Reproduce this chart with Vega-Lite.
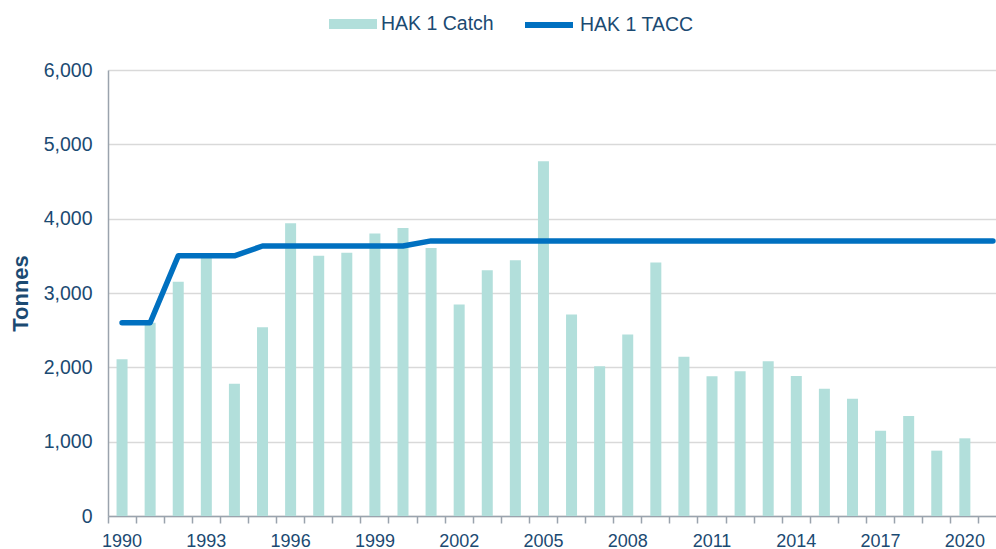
{
  "$schema": "https://vega.github.io/schema/vega-lite/v6.json",
  "width": 888,
  "height": 446,
  "autosize": {"type": "none"},
  "padding": {"left": 108, "top": 70, "right": 0, "bottom": 33},
  "background": "white",
  "config": {
    "view": {"stroke": null},
    "font": "Liberation Sans",
    "axisY": {
      "titleFontSize": 22,
      "titleFontWeight": "bold",
      "titleColor": "#1b4a72",
      "titlePadding": 11,
      "labelFontSize": 19.5,
      "labelColor": "#1b4a72",
      "labelPadding": 16,
      "ticks": false,
      "domainColor": "#9aa3ad",
      "domainWidth": 1.5,
      "grid": true,
      "gridColor": "#d9d9d9",
      "gridWidth": 1.3
    }
  },
  "data": {
    "values": [
      {"year": 1990, "catch": 2110, "tacc": 2600},
      {"year": 1991, "catch": 2600, "tacc": 2600},
      {"year": 1992, "catch": 3150, "tacc": 3500},
      {"year": 1993, "catch": 3470, "tacc": 3500},
      {"year": 1994, "catch": 1780, "tacc": 3500},
      {"year": 1995, "catch": 2540, "tacc": 3632},
      {"year": 1996, "catch": 3940, "tacc": 3632},
      {"year": 1997, "catch": 3500, "tacc": 3632},
      {"year": 1998, "catch": 3540, "tacc": 3632},
      {"year": 1999, "catch": 3800, "tacc": 3632},
      {"year": 2000, "catch": 3875, "tacc": 3632},
      {"year": 2001, "catch": 3606, "tacc": 3701},
      {"year": 2002, "catch": 2846, "tacc": 3701},
      {"year": 2003, "catch": 3306, "tacc": 3701},
      {"year": 2004, "catch": 3441, "tacc": 3701},
      {"year": 2005, "catch": 4774, "tacc": 3701},
      {"year": 2006, "catch": 2711, "tacc": 3701},
      {"year": 2007, "catch": 2013, "tacc": 3701},
      {"year": 2008, "catch": 2443, "tacc": 3701},
      {"year": 2009, "catch": 3409, "tacc": 3701},
      {"year": 2010, "catch": 2143, "tacc": 3701},
      {"year": 2011, "catch": 1880, "tacc": 3701},
      {"year": 2012, "catch": 1946, "tacc": 3701},
      {"year": 2013, "catch": 2081, "tacc": 3701},
      {"year": 2014, "catch": 1883, "tacc": 3701},
      {"year": 2015, "catch": 1713, "tacc": 3701},
      {"year": 2016, "catch": 1578, "tacc": 3701},
      {"year": 2017, "catch": 1148, "tacc": 3701},
      {"year": 2018, "catch": 1345, "tacc": 3701},
      {"year": 2019, "catch": 879, "tacc": 3701},
      {"year": 2020, "catch": 1045, "tacc": 3701},
      {"year": 2021, "catch": null, "tacc": 3701}
    ]
  },
  "encoding": {
    "x": {
      "field": "year",
      "type": "ordinal",
      "scale": {"type": "band", "paddingInner": 0, "paddingOuter": 0, "range": [0, 899]},
      "axis": {
        "title": null,
        "bandPosition": 0.0001,
        "labelExpr": "(datum.value - 1990) % 3 == 0 ? datum.label : ''",
        "labelAngle": 0,
        "labelOverlap": false,
        "labelBound": false,
        "labelFlush": false,
        "labelFontSize": 18,
        "labelColor": "#1b4a72",
        "labelPadding": 9,
        "tickSize": 7,
        "tickColor": "#9aa3ad",
        "tickWidth": 1.5,
        "domainColor": "#9aa3ad",
        "domainWidth": 1.5,
        "grid": false
      }
    }
  },
  "layer": [
    {
      "mark": {"type": "bar", "size": 11},
      "encoding": {
        "y": {
          "field": "catch",
          "type": "quantitative",
          "scale": {"domain": [0, 6000], "nice": false},
          "axis": {
            "title": "Tonnes",
            "values": [0, 1000, 2000, 3000, 4000, 5000, 6000],
            "format": ",.0f"
          }
        },
        "fill": {
          "datum": "HAK 1 Catch",
          "type": "nominal",
          "scale": {"range": ["#b2dfdb"]},
          "legend": {
            "orient": "none",
            "legendX": 221,
            "legendY": -70,
            "title": null,
            "symbolType": "M-1,-0.2083H1V0.2083H-1Z",
            "symbolSize": 2304,
            "symbolStrokeWidth": 0,
            "labelFontSize": 19.5,
            "labelColor": "#1b4a72",
            "labelOffset": 4
          }
        }
      }
    },
    {
      "mark": {"type": "line", "strokeWidth": 5.5, "strokeCap": "round", "strokeJoin": "round"},
      "encoding": {
        "y": {
          "field": "tacc",
          "type": "quantitative",
          "axis": {
            "title": "Tonnes",
            "values": [0, 1000, 2000, 3000, 4000, 5000, 6000],
            "format": ",.0f"
          }
        },
        "stroke": {
          "datum": "HAK 1 TACC",
          "type": "nominal",
          "scale": {"range": ["#0070c0"]},
          "legend": {
            "orient": "none",
            "legendX": 414,
            "legendY": -72,
            "title": null,
            "symbolType": "stroke",
            "symbolSize": 2304,
            "symbolStrokeWidth": 6,
            "labelFontSize": 19.5,
            "labelColor": "#1b4a72",
            "labelOffset": 4
          }
        }
      }
    }
  ]
}
